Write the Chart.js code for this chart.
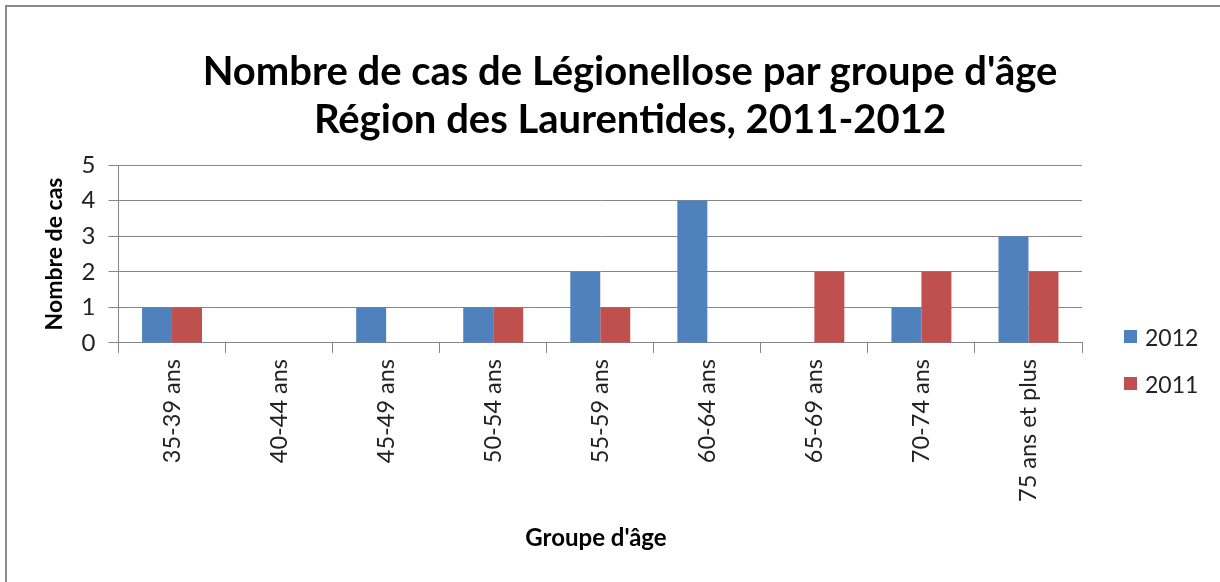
<!DOCTYPE html>
<html>
<head>
<meta charset="utf-8">
<script src="https://cdn.jsdelivr.net/npm/chart.js@4.4.1/dist/chart.umd.min.js"></script>
<style>
  html, body { margin: 0; padding: 0; background: #fff; overflow: hidden; }
  #wrap { position: relative; width: 1220px; height: 582px; overflow: hidden; }
  #frame { position: absolute; left: 5px; top: 5px; width: 1300px; height: 700px;
           border-left: 2px solid #8a8a8a; border-top: 2px solid #8a8a8a; pointer-events: none; }
  #title { position: absolute; left: 130px; width: 1000px; top: 46px; text-align: center;
           font-family: Lato, sans-serif; font-weight: bold; font-size: 40px; line-height: 48px;
           color: #000; white-space: nowrap; }
  #xtitle { position: absolute; left: 396px; width: 400px; top: 523px; text-align: center;
            font-family: Lato, sans-serif; font-weight: bold; font-size: 24px; line-height: 28px;
            color: #000; white-space: nowrap; }
  #legend { position: absolute; left: 1124px; top: 325px; font-family: Lato, sans-serif;
            font-size: 23px; color: #222; }
  #legend div { display: flex; align-items: center; height: 23px; margin-bottom: 24px; }
  #legend span.box { display: inline-block; width: 13px; height: 13px; margin-right: 8px; }
</style>
</head>
<body>
<div id="wrap">
  <canvas id="c" width="1220" height="582"></canvas>
  <div id="title"></div>
  <div id="xtitle"></div>
  <div id="frame"></div>
  <div id="legend"></div>
</div>
<script>
const categories = ['35-39 ans', '40-44 ans', '45-49 ans', '50-54 ans', '55-59 ans',
                    '60-64 ans', '65-69 ans', '70-74 ans', '75 ans et plus'];
const cases2012 = [1, 0, 1, 1, 2, 4, 0, 1, 3];
const cases2011 = [1, 0, 0, 1, 1, 0, 2, 2, 2];
const seriesNames = ['2012', '2011'];
const seriesColors = ['#4F81BD', '#C0504D'];
const titleLines = ["Nombre de cas de Légionellose par groupe d'âge", 'Région des Laurentides, 2011-2012'];
const xTitle = "Groupe d'âge";
const yTitle = 'Nombre de cas';

const FONT = 'Lato, sans-serif';

new Chart(document.getElementById('c'), {
  type: 'bar',
  data: {
    labels: categories,
    datasets: [
      { label: seriesNames[0], data: cases2012, backgroundColor: seriesColors[0] },
      { label: seriesNames[1], data: cases2011, backgroundColor: seriesColors[1] }
    ]
  },
  options: {
    responsive: false,
    animation: false,
    categoryPercentage: 0.56,
    barPercentage: 1,
    layout: { padding: { left: 41, right: 138, top: 165, bottom: 74 } },
    plugins: {
      legend: { display: false },
      tooltip: { enabled: false },
      title: { display: false }
    },
    scales: {
      x: {
        border: { color: '#868686', width: 1 },
        grid: { drawOnChartArea: false, drawTicks: true, tickLength: 10, color: '#868686' },
        ticks: { color: '#222', font: { family: FONT, size: 23.5 }, maxRotation: 90, minRotation: 90, padding: 6 }
      },
      y: {
        min: 0, max: 5,
        border: { color: '#868686', width: 1 },
        grid: { color: '#868686', tickLength: 10 },
        ticks: { stepSize: 1, color: '#222', font: { family: FONT, size: 24 }, padding: 13 },
        title: { display: true, text: yTitle, color: '#000',
                 font: { family: FONT, size: 23, weight: 'bold', lineHeight: 1.2 }, padding: { top: 0, bottom: 0 } }
      }
    }
  }
});

document.getElementById('title').innerHTML = titleLines.join('<br>');
document.getElementById('xtitle').textContent = xTitle;
document.getElementById('legend').innerHTML = seriesNames.map((n, i) =>
  `<div><span class="box" style="background:${seriesColors[i]}"></span>${n}</div>`).join('');
</script>
</body>
</html>
